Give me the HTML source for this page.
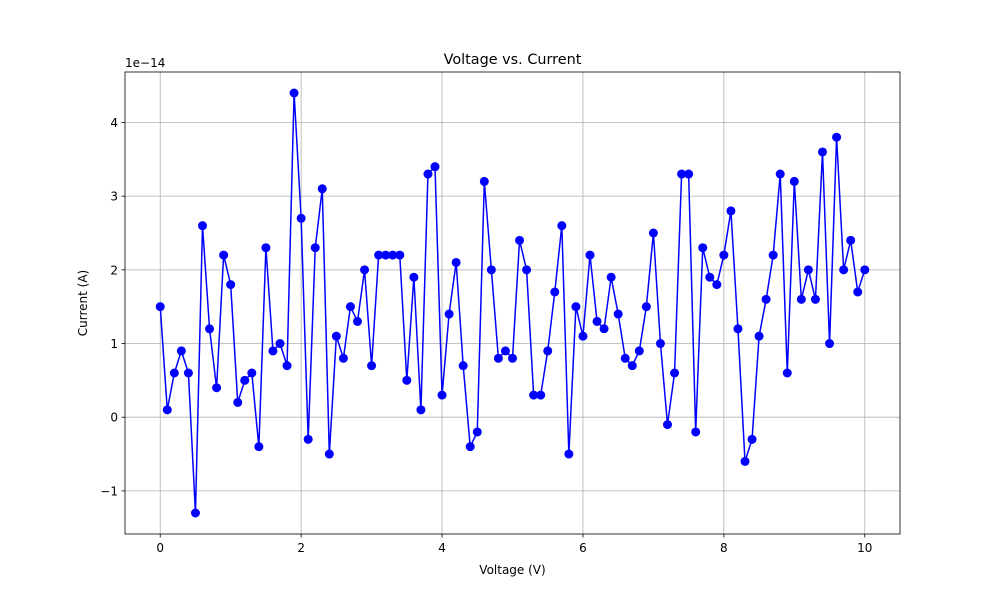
<!DOCTYPE html>
<html><head><meta charset="utf-8"><style>
body{margin:0;background:#fff;}
svg text{font-family:"DejaVu Sans","Liberation Sans",sans-serif;fill:#000;}
</style></head><body>
<svg id="chart" width="1000" height="600" xmlns="http://www.w3.org/2000/svg">
<rect width="1000" height="600" fill="#fff"/>
<g id="grid"></g>
<g id="axes"></g>
<g id="series"></g>
<rect x="125" y="72" width="775" height="462" fill="none" stroke="#000" stroke-width="0.8"/>
<text x="512.5" y="64" font-size="14.4" text-anchor="middle">Voltage vs. Current</text>
<text x="512.5" y="574" font-size="12" text-anchor="middle">Voltage (V)</text>
<text x="0" y="0" font-size="12" text-anchor="middle" transform="translate(87,303) rotate(-90)">Current (A)</text>
<text x="125" y="67" font-size="12">1e−14</text>
</svg>
<script>
const voltages = [0,0.1,0.2,0.3,0.4,0.5,0.6,0.7,0.8,0.9,1.0,1.1,1.2,1.3,1.4,1.5,1.6,1.7,1.8,1.9,2.0,2.1,2.2,2.3,2.4,2.5,2.6,2.7,2.8,2.9,3.0,3.1,3.2,3.3,3.4,3.5,3.6,3.7,3.8,3.9,4.0,4.1,4.2,4.3,4.4,4.5,4.6,4.7,4.8,4.9,5.0,5.1,5.2,5.3,5.4,5.5,5.6,5.7,5.8,5.9,6.0,6.1,6.2,6.3,6.4,6.5,6.6,6.7,6.8,6.9,7.0,7.1,7.2,7.3,7.4,7.5,7.6,7.7,7.8,7.9,8.0,8.1,8.2,8.3,8.4,8.5,8.6,8.7,8.8,8.9,9.0,9.1,9.2,9.3,9.4,9.5,9.6,9.7,9.8,9.9,10.0];
const currents = [1.5,0.1,0.6,0.9,0.6,-1.3,2.6,1.2,0.4,2.2,1.8,0.2,0.5,0.6,-0.4,2.3,0.9,1.0,0.7,4.4,2.7,-0.3,2.3,3.1,-0.5,1.1,0.8,1.5,1.3,2.0,0.7,2.2,2.2,2.2,2.2,0.5,1.9,0.1,3.3,3.4,0.3,1.4,2.1,0.7,-0.4,-0.2,3.2,2.0,0.8,0.9,0.8,2.4,2.0,0.3,0.3,0.9,1.7,2.6,-0.5,1.5,1.1,2.2,1.3,1.2,1.9,1.4,0.8,0.7,0.9,1.5,2.5,1.0,-0.1,0.6,3.3,3.3,-0.2,2.3,1.9,1.8,2.2,2.8,1.2,-0.6,-0.3,1.1,1.6,2.2,3.3,0.6,3.2,1.6,2.0,1.6,3.6,1.0,3.8,2.0,2.4,1.7,2.0];
const xTicks = [0,2,4,6,8,10];
const yTicks = [-1,0,1,2,3,4];
const NS="http://www.w3.org/2000/svg";
const L=125,R=900,T=72,B=534;
const xmin=-0.5,xmax=10.5;
const cmin=Math.min(...currents),cmax=Math.max(...currents),pad=(cmax-cmin)*0.05;
const ymin=cmin-pad,ymax=cmax+pad;
const xs=v=>L+(v-xmin)/(xmax-xmin)*(R-L);
const ys=v=>B-(v-ymin)/(ymax-ymin)*(B-T);
function mk(tag,attrs,parent){const e=document.createElementNS(NS,tag);for(const k in attrs)e.setAttribute(k,attrs[k]);parent.appendChild(e);return e;}
const grid=document.getElementById('grid'),axes=document.getElementById('axes'),series=document.getElementById('series');
xTicks.forEach(t=>{
  const x=xs(t);
  const g=mk('line',{x1:x,x2:x,y1:T,y2:B,stroke:'#b0b0b0','stroke-width':0.8},grid);
  
  
  const tk=mk('line',{x1:x,x2:x,y1:B,y2:B+3.5,stroke:'#000','stroke-width':0.8},axes);
  
  
  const lb=mk('text',{x:x,y:B+18,'font-size':12,'text-anchor':'middle'},axes);
  lb.textContent=String(t);
  
  
});
yTicks.forEach(t=>{
  const y=ys(t);
  const g=mk('line',{x1:L,x2:R,y1:y,y2:y,stroke:'#b0b0b0','stroke-width':0.8},grid);
  
  
  const tk=mk('line',{x1:L-3.5,x2:L,y1:y,y2:y,stroke:'#000','stroke-width':0.8},axes);
  
  
  const lb=mk('text',{x:L-7,y:y+4.5,'font-size':12,'text-anchor':'end'},axes);
  lb.textContent=t<0?'\u2212'+Math.abs(t):String(t);
  
  
});
const pts=voltages.map((v,i)=>xs(v).toFixed(2)+','+ys(currents[i]).toFixed(2)).join(' ');
const line=mk('polyline',{points:pts,fill:'none',stroke:'#0000ff','stroke-width':1.5},series);


voltages.forEach((v,i)=>{
  const c=mk('circle',{cx:xs(v),cy:ys(currents[i]),r:4.5,fill:'#0000ff'},series);
  
  
});
</script>
</body></html>
